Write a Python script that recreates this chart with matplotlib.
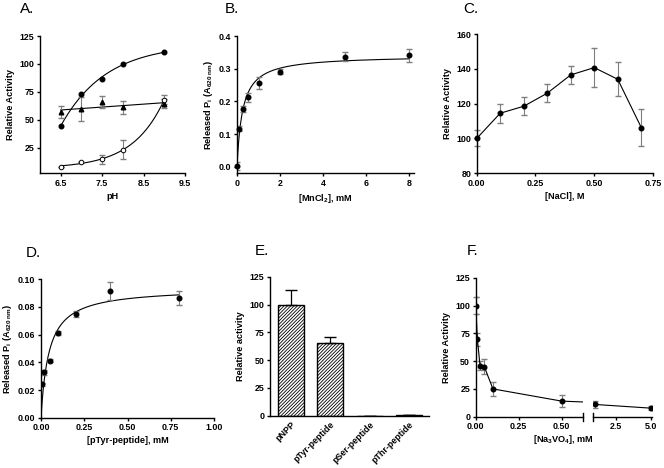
import numpy as np
import matplotlib
matplotlib.use('Agg')
import matplotlib.pyplot as plt
from matplotlib.ticker import FormatStrFormatter

plt.rcParams['font.family'] = ['Liberation Sans', 'DejaVu Sans']
plt.rcParams['mathtext.fontset'] = 'custom'
plt.rcParams['mathtext.rm'] = 'Liberation Sans:bold'
plt.rcParams['mathtext.it'] = 'Liberation Sans:bold'
plt.rcParams['mathtext.bf'] = 'Liberation Sans:bold'
plt.rcParams['mathtext.default'] = 'rm'
plt.rcParams['hatch.linewidth'] = 0.6

# ---- data ----
# A. pH
ph = [6.5, 7.0, 7.5, 8.0, 9.0]
ph_filled = [44, 73, 86.5, 100, 110.5]
ph_tri = [57, 59.5, 66, 61, 64.5]
ph_tri_err = [5.5, 11, 5.5, 5.5, 4]
ph_open = [8, 12, 14.5, 23, 68]
ph_open_err = [0, 0, 4, 8.5, 4]

# B. MnCl2
mn = [0, 0.08, 0.3, 0.5, 1, 2, 5, 8]
mn_pi = [0.002, 0.117, 0.177, 0.212, 0.257, 0.291, 0.337, 0.341]
mn_err = [0.012, 0.008, 0.01, 0.014, 0.018, 0.008, 0.014, 0.02]

# C. NaCl
nacl = [0, 0.1, 0.2, 0.3, 0.4, 0.5, 0.6, 0.7]
nacl_act = [100, 114.5, 118.5, 126, 136.5, 140.7, 134, 106.3]
nacl_err = [4.6, 5.4, 5.2, 5.3, 5, 11.2, 9.8, 10.6]

# D. pTyr-peptide
ptyr = [0.008, 0.02, 0.05, 0.1, 0.2, 0.4, 0.8]
ptyr_pi = [0.0241, 0.0328, 0.0412, 0.0612, 0.0748, 0.0916, 0.0866]
ptyr_err = [0.001, 0.002, 0.001, 0.0015, 0.002, 0.0066, 0.0053]

# E. substrates
substrates = ['pNPP', 'pTyr-peptide', 'pSer-peptide', 'pThr-peptide']
sub_act = [100, 65, 0, 0.6]
sub_err = [13, 5.5, 0, 0]

# F. Na3VO4
vo4 = [0, 0.01, 0.025, 0.05, 0.1, 0.5, 1.0, 5.0]
vo4_act = [100, 69.5, 46, 45, 25, 14, 11, 7.7]
vo4_err = [8, 5.5, 4, 6.5, 6.5, 5.5, 3, 1.5]

W, H = 664, 468
fig = plt.figure(figsize=(W / 100, H / 100), dpi=100)

FS = 6.4


def box(l, t, r, b):
    return [l / W, 1 - b / H, (r - l) / W, (b - t) / H]


def style(ax):
    for s in ['top', 'right']:
        ax.spines[s].set_visible(False)
    for s in ['left', 'bottom']:
        ax.spines[s].set_linewidth(1.0)
    ax.tick_params(labelsize=FS, width=1.0, length=2.5, pad=1.5)


def label(text, x, y):
    fig.text(x / W, 1 - y / H, text, fontsize=11, fontweight='normal', va='center', ha='left')


def xlab(ax, text):
    ax.set_xlabel(text, fontsize=FS + 0.2, fontweight='bold', labelpad=3)


def ylab(ax, text):
    ax.set_ylabel(text, fontsize=FS + 0.2, fontweight='bold', labelpad=3)


ms = 3.3
ecol = '#7f7f7f'


def mm_fit(x, y):
    x = np.asarray(x, float)
    y = np.asarray(y, float)
    best = None
    for K in np.linspace(0.005, 3, 3000):
        f = x / (K + x)
        V = np.sum(f * y) / np.sum(f * f)
        r = np.sum((V * f - y) ** 2)
        if best is None or r < best[0]:
            best = (r, V, K)
    return best[1], best[2]


# ---- A ----
axA = fig.add_axes(box(40, 36, 185, 173.3))
x = np.asarray(ph)
xs = np.linspace(6.5, 9.0, 200)
# saturating fit for filled circles
best = None
for k in np.linspace(0.05, 5, 1000):
    M = np.column_stack([np.ones_like(x), -np.exp(-k * x)])
    coef, *_ = np.linalg.lstsq(M, ph_filled, rcond=None)
    r = np.sum((M @ coef - ph_filled) ** 2)
    if best is None or r < best[0]:
        best = (r, k, coef)
_, k, coef = best
axA.plot(xs, coef[0] - coef[1] * np.exp(-k * xs), color='black', lw=0.8)
# exponential fit for open circles
best = None
for k in np.linspace(0.05, 6, 1000):
    M = np.column_stack([np.ones_like(x), np.exp(k * (x - 9))])
    coef, *_ = np.linalg.lstsq(M, ph_open, rcond=None)
    r = np.sum((M @ coef - ph_open) ** 2)
    if best is None or r < best[0]:
        best = (r, k, coef)
_, k, coef = best
axA.plot(xs, coef[0] + coef[1] * np.exp(k * (xs - 9)), color='black', lw=0.8)
p = np.polyfit(ph, ph_tri, 1)
axA.plot(xs, np.polyval(p, xs), color='black', lw=0.8)
axA.errorbar(ph, ph_tri, yerr=ph_tri_err, fmt='none', ecolor=ecol, elinewidth=0.8, capsize=2.5)
axA.errorbar(ph, ph_open, yerr=ph_open_err, fmt='none', ecolor=ecol, elinewidth=0.8, capsize=2.5)
axA.plot(ph, ph_filled, 'o', color='black', ms=ms)
axA.plot(ph, ph_tri, '^', color='black', ms=ms)
axA.plot(ph, ph_open, 'o', mfc='white', mec='black', mew=0.7, ms=ms)
axA.set_xlim(6.0, 9.5)
axA.set_ylim(2, 125)
axA.set_xticks([6.5, 7.5, 8.5, 9.5])
axA.set_yticks([25, 50, 75, 100, 125])
xlab(axA, 'pH')
ylab(axA, 'Relative Activity')
style(axA)
label('A.', 20, 9)

# ---- B ----
axB = fig.add_axes(box(237, 36, 414, 173.3))
V, K = mm_fit(mn, mn_pi)
xs = np.linspace(0, 8, 400)
axB.plot(xs, V * xs / (K + xs), color='black', lw=0.8)
axB.errorbar(mn, mn_pi, yerr=mn_err, fmt='none', ecolor=ecol, elinewidth=0.8, capsize=2.5)
axB.plot(mn, mn_pi, 'o', color='black', ms=ms, clip_on=False, zorder=5)
axB.set_xlim(0, 8.22)
axB.set_ylim(-0.02, 0.4)
axB.set_xticks([0, 2, 4, 6, 8])
axB.set_yticks([0.0, 0.1, 0.2, 0.3, 0.4])
axB.yaxis.set_major_formatter(FormatStrFormatter('%.1f'))
xlab(axB, '[MnCl$_2$], mM')
ylab(axB, 'Released P$_{i}$ (A$_{620\\ nm}$)')
style(axB)
label('B.', 225, 9)

# ---- C ----
axC = fig.add_axes(box(476.7, 34, 653, 173.3))
axC.errorbar(nacl, nacl_act, yerr=nacl_err, fmt='none', ecolor=ecol, elinewidth=0.8, capsize=2.5, clip_on=False)
axC.plot(nacl, nacl_act, '-o', color='black', lw=0.8, ms=ms, clip_on=False, zorder=5)
axC.set_xlim(0, 0.75)
axC.set_ylim(80, 160)
axC.set_xticks([0, 0.25, 0.5, 0.75])
axC.set_yticks([80, 100, 120, 140, 160])
axC.xaxis.set_major_formatter(FormatStrFormatter('%.2f'))
xlab(axC, '[NaCl], M')
ylab(axC, 'Relative Activity')
style(axC)
label('C.', 463, 9)

# ---- D ----
axD = fig.add_axes(box(41, 279.3, 214, 417.7))
V, K = mm_fit(ptyr, ptyr_pi)
xs = np.linspace(0, 0.8, 400)
axD.plot(xs, V * xs / (K + xs), color='black', lw=0.8)
axD.errorbar(ptyr, ptyr_pi, yerr=ptyr_err, fmt='none', ecolor=ecol, elinewidth=0.8, capsize=2.5)
axD.plot(ptyr, ptyr_pi, 'o', color='black', ms=ms, zorder=5)
axD.set_xlim(0, 1.0)
axD.set_ylim(0, 0.10)
axD.set_xticks([0, 0.25, 0.5, 0.75, 1.0])
axD.set_yticks([0, 0.02, 0.04, 0.06, 0.08, 0.10])
axD.xaxis.set_major_formatter(FormatStrFormatter('%.2f'))
axD.yaxis.set_major_formatter(FormatStrFormatter('%.2f'))
xlab(axD, '[pTyr-peptide], mM')
ylab(axD, 'Released P$_{i}$ (A$_{620\\ nm}$)')
style(axD)
label('D.', 26, 253)

# ---- E ----
axE = fig.add_axes(box(270, 276.7, 429, 415.7))
pos = np.arange(len(substrates))
axE.bar(pos, sub_act, width=0.66, color='white', edgecolor='black', hatch='/' * 10, lw=1.0)
axE.errorbar(pos, sub_act, yerr=[np.zeros(len(sub_err)), sub_err], fmt='none', ecolor='black',
             elinewidth=0.9, capsize=4)
axE.set_xlim(-0.52, 3.5)
axE.set_ylim(0, 125)
axE.set_yticks([0, 25, 50, 75, 100, 125])
axE.set_xticks(pos)
axE.set_xticklabels(substrates, rotation=45, ha='right', rotation_mode='anchor')
ylab(axE, 'Relative activity')
style(axE)
axE.tick_params(axis='x', length=0, pad=3)
label('E.', 255, 251)

# ---- F (broken x axis) ----
axF1 = fig.add_axes(box(475.7, 277.7, 583.3, 416.7))
axF2 = fig.add_axes(box(592.7, 277.7, 652, 416.7))
for ax in (axF1, axF2):
    ax.errorbar(vo4, vo4_act, yerr=vo4_err, fmt='none', ecolor=ecol, elinewidth=0.8, capsize=2.5)
    ax.plot(vo4, vo4_act, '-o', color='black', lw=0.8, ms=ms, zorder=5)
    ax.set_ylim(0, 125)
    style(ax)
axF1.errorbar(vo4[:1], vo4_act[:1], yerr=vo4_err[:1], fmt='none', ecolor=ecol, elinewidth=0.8,
              capsize=2.5, clip_on=False)
axF1.set_xlim(0, 0.625)
axF1.set_xticks([0, 0.25, 0.5])
axF1.xaxis.set_major_formatter(FormatStrFormatter('%.2f'))
axF1.set_yticks([0, 25, 50, 75, 100, 125])
ylab(axF1, 'Relative Activity')
axF2.set_xlim(0.82, 5.09)
axF2.set_xticks([2.5, 5.0])
axF2.xaxis.set_major_formatter(FormatStrFormatter('%.1f'))
axF2.spines['left'].set_visible(False)
axF2.set_yticks([])
# break marks at the split
for ax, xb in ((axF1, 1.0), (axF2, 0.0)):
    ax.plot([xb, xb], [-0.03, 0.03], transform=ax.transAxes, color='black', lw=1.0, clip_on=False)
fig.text((475.7 + 652) / 2 / W, 1 - 440 / H, '[Na$_3$VO$_4$], mM', fontsize=FS + 0.2,
         fontweight='bold', ha='center', va='center')
label('F.', 467, 251)

# bold tick labels everywhere
for ax in fig.axes:
    for lab in ax.get_xticklabels() + ax.get_yticklabels():
        lab.set_fontweight('bold')

fig.savefig('out.png', dpi=100)
